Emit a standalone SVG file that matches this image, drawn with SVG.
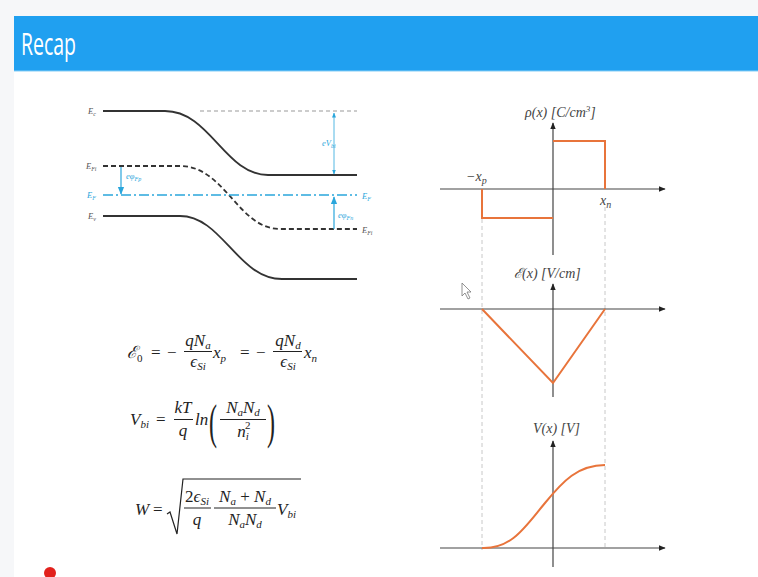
<svg xmlns="http://www.w3.org/2000/svg" width="758" height="577" viewBox="0 0 758 577">
<defs>
<style>
.m{font-family:"Liberation Serif","DejaVu Serif",serif;font-style:italic;fill:#222;font-size:17px}
.u{font-style:normal}
.s{font-size:11px}
.pl{font-family:"Liberation Serif","DejaVu Serif",serif;font-style:italic;fill:#444;font-size:14px}
.bl{font-family:"Liberation Serif","DejaVu Serif",serif;font-style:italic;fill:#555;font-size:8.5px}
.cy{font-family:"Liberation Serif","DejaVu Serif",serif;font-style:italic;fill:#2aa6dc;font-size:8.5px}
.band{fill:none;stroke:#333;stroke-width:1.8}
.axis{fill:none;stroke:#444;stroke-width:1.2}
.or{fill:none;stroke:#e8743b;stroke-width:2}
.guide{fill:none;stroke:#c8c8c8;stroke-width:1;stroke-dasharray:4 3}
.bar{stroke:#222;stroke-width:1}
</style>
<marker id="ah" viewBox="0 0 10 10" refX="9" refY="5" markerWidth="7" markerHeight="7" orient="auto-start-reverse" markerUnits="userSpaceOnUse"><path d="M0,1 L10,5 L0,9 z" fill="#222"/></marker>
<marker id="ca" viewBox="0 0 10 10" refX="9" refY="5" markerWidth="8" markerHeight="8" orient="auto-start-reverse" markerUnits="userSpaceOnUse"><path d="M0,1 L10,5 L0,9 z" fill="#2aa6dc"/></marker>
<marker id="cs" viewBox="0 0 10 10" refX="9" refY="5" markerWidth="5" markerHeight="5" orient="auto-start-reverse" markerUnits="userSpaceOnUse"><path d="M0,1 L10,5 L0,9 z" fill="#2aa6dc"/></marker>
</defs>
<rect width="758" height="577" fill="#f6f7f9"/>
<rect x="14" y="71" width="744" height="506" fill="#ffffff"/>
<g id="header">
<rect x="14" y="16" width="744" height="55" fill="#20a0f0"/>
<line x1="14" y1="71" x2="758" y2="71" stroke="#86cdf6" stroke-width="1.2"/>
<text x="21" y="55" font-family="Open Sans, Liberation Sans, sans-serif" font-size="31" fill="#ffffff" textLength="55" lengthAdjust="spacingAndGlyphs">Recap</text>
</g>
<g id="band-diagram">
<path class="band" d="M103,111 L165,111 C210,111 225,175 268,175 L357,175"/>
<path class="band" d="M103,216 L180,216 C222,216 238,279 282,279 L357,279"/>
<path class="band" stroke-dasharray="5 3" d="M103,166 L180,166 C225,166 238,229 280,229 L357,229"/>
<line x1="200" y1="111" x2="357" y2="111" stroke="#999" stroke-width="1" stroke-dasharray="4 3"/>
<line x1="103" y1="195" x2="357" y2="195" stroke="#2aa6dc" stroke-width="1.3" stroke-dasharray="10 3 2 3"/>
<line x1="334" y1="113" x2="334" y2="174" stroke="#2aa6dc" stroke-width="0.8" marker-start="url(#cs)" marker-end="url(#cs)"/>
<line x1="121" y1="167" x2="121" y2="194" stroke="#2aa6dc" stroke-width="1.2" marker-end="url(#ca)"/>
<line x1="334" y1="229" x2="334" y2="197" stroke="#2aa6dc" stroke-width="1.2" marker-end="url(#ca)"/>
<text class="bl" x="88" y="114">E<tspan font-size="6" dy="2">c</tspan></text>
<text class="bl" x="86" y="169">E<tspan font-size="6" dy="2">Fi</tspan></text>
<text class="cy" x="87" y="198">E<tspan font-size="6" dy="2">F</tspan></text>
<text class="bl" x="88" y="219">E<tspan font-size="6" dy="2">v</tspan></text>
<text class="cy" x="362" y="199">E<tspan font-size="6" dy="2">F</tspan></text>
<text class="bl" x="362" y="233">E<tspan font-size="6" dy="2">Fi</tspan></text>
<text class="cy" x="322" y="146">eV<tspan font-size="6" dy="2">bi</tspan></text>
<text class="cy" x="126" y="179">eφ<tspan font-size="6" dy="2">Fp</tspan></text>
<text class="cy" x="338" y="218">eφ<tspan font-size="6" dy="2">Fn</tspan></text>
</g>
<g id="eq-field">
<text class="m" x="127" y="358">ℰ<tspan class="s u" dy="4">0</tspan></text>
<text class="m u" x="151" y="358">=</text>
<text class="m u" x="167" y="358">−</text>
<text class="m" x="198" y="346" text-anchor="middle">qN<tspan class="s" dy="3">a</tspan></text>
<line class="bar" x1="184" y1="351.5" x2="212" y2="351.5"/>
<text class="m" x="198" y="367" text-anchor="middle">ϵ<tspan class="s" dy="3">Si</tspan></text>
<text class="m" x="213" y="358">x<tspan class="s" dy="4">p</tspan></text>
<text class="m u" x="240" y="358">=</text>
<text class="m u" x="256" y="358">−</text>
<text class="m" x="288" y="346" text-anchor="middle">qN<tspan class="s" dy="3">d</tspan></text>
<line class="bar" x1="273" y1="351.5" x2="302" y2="351.5"/>
<text class="m" x="288" y="367" text-anchor="middle">ϵ<tspan class="s" dy="3">Si</tspan></text>
<text class="m" x="304" y="358">x<tspan class="s" dy="4">n</tspan></text>
</g>
<g id="eq-vbi">
<text class="m" x="130" y="425">V<tspan class="s" dy="3">bi</tspan></text>
<text class="m u" x="156" y="425">=</text>
<text class="m" x="183" y="413" text-anchor="middle">kT</text>
<line class="bar" x1="174" y1="419.5" x2="193" y2="419.5"/>
<text class="m" x="183" y="436" text-anchor="middle">q</text>
<text class="m" x="195" y="425">ln</text>
<text class="m u" transform="translate(209,438) scale(0.5,1)" style="font-size:48px">(</text>
<text class="m" x="243" y="413" text-anchor="middle">N<tspan class="s" dy="3">a</tspan><tspan dy="-3">N</tspan><tspan class="s" dy="3">d</tspan></text>
<line class="bar" x1="220" y1="419.5" x2="266" y2="419.5"/>
<text class="m" x="243" y="437" text-anchor="middle">n<tspan class="s" dy="3">i</tspan></text>
<text class="s m u" x="245" y="429">2</text>
<text class="m u" transform="translate(267,438) scale(0.5,1)" style="font-size:48px">)</text>
</g>
<g id="eq-width">
<text class="m" x="135" y="515">W</text>
<text class="m u" x="153" y="515">=</text>
<path d="M167,514 l3,-2 l7,22 l6,-55 h118" fill="none" stroke="#222" stroke-width="1.2"/>
<text class="m" x="197" y="502" text-anchor="middle"><tspan class="u">2</tspan>ϵ<tspan class="s" dy="3">Si</tspan></text>
<line class="bar" x1="184" y1="508" x2="211" y2="508"/>
<text class="m" x="197" y="525" text-anchor="middle">q</text>
<text class="m" x="245" y="502" text-anchor="middle">N<tspan class="s" dy="3">a</tspan><tspan class="u" dy="-3"> + </tspan>N<tspan class="s" dy="3">d</tspan></text>
<line class="bar" x1="214" y1="508" x2="276" y2="508"/>
<text class="m" x="245" y="525" text-anchor="middle">N<tspan class="s" dy="3">a</tspan><tspan dy="-3">N</tspan><tspan class="s" dy="3">d</tspan></text>
<text class="m" x="277" y="515">V<tspan class="s" dy="3">bi</tspan></text>
</g>
<g id="guides">
<line class="guide" x1="482" y1="219" x2="482" y2="550"/>
<line class="guide" x1="605" y1="207" x2="605" y2="550"/>
</g>
<g id="plot-rho">
<line class="axis" x1="440" y1="189" x2="665" y2="189" marker-end="url(#ah)"/>
<line class="axis" x1="553" y1="255" x2="553" y2="123" marker-end="url(#ah)"/>
<path class="or" d="M482,189 L482,218 L553,218"/>
<path class="or" d="M553,141 L605,141 L605,189"/>
<text class="pl" x="525" y="117">ρ(x) [C/cm<tspan font-size="9" dy="-5">3</tspan><tspan dy="5">]</tspan></text>
<text class="pl" x="466" y="181">−x<tspan font-size="10" dy="3">p</tspan></text>
<text class="pl" x="600" y="205">x<tspan font-size="10" dy="3">n</tspan></text>
</g>
<g id="plot-field">
<line class="axis" x1="440" y1="309" x2="665" y2="309" marker-end="url(#ah)"/>
<line class="axis" x1="553" y1="397" x2="553" y2="284" marker-end="url(#ah)"/>
<path class="or" d="M482,309 L553,383 L605,309"/>
<text class="pl" x="514" y="278">ℰ(x) [V/cm]</text>
</g>
<g id="plot-potential">
<line class="axis" x1="440" y1="548" x2="665" y2="548" marker-end="url(#ah)"/>
<line class="axis" x1="553" y1="567" x2="553" y2="441" marker-end="url(#ah)"/>
<path class="or" d="M482,548 C512,549 525,527 545,503 C563,481 578,465 605,465"/>
<text class="pl" x="533" y="433">V(x) [V]</text>
</g>
<g id="cursor">
<path d="M462,283 L462,296 L465,293 L468,299 L470,298 L467,292 L471,292 Z" fill="#ffffff" stroke="#777" stroke-width="0.8"/>
</g>
<circle cx="50" cy="573" r="6" fill="#e2211c"/>
</svg>
